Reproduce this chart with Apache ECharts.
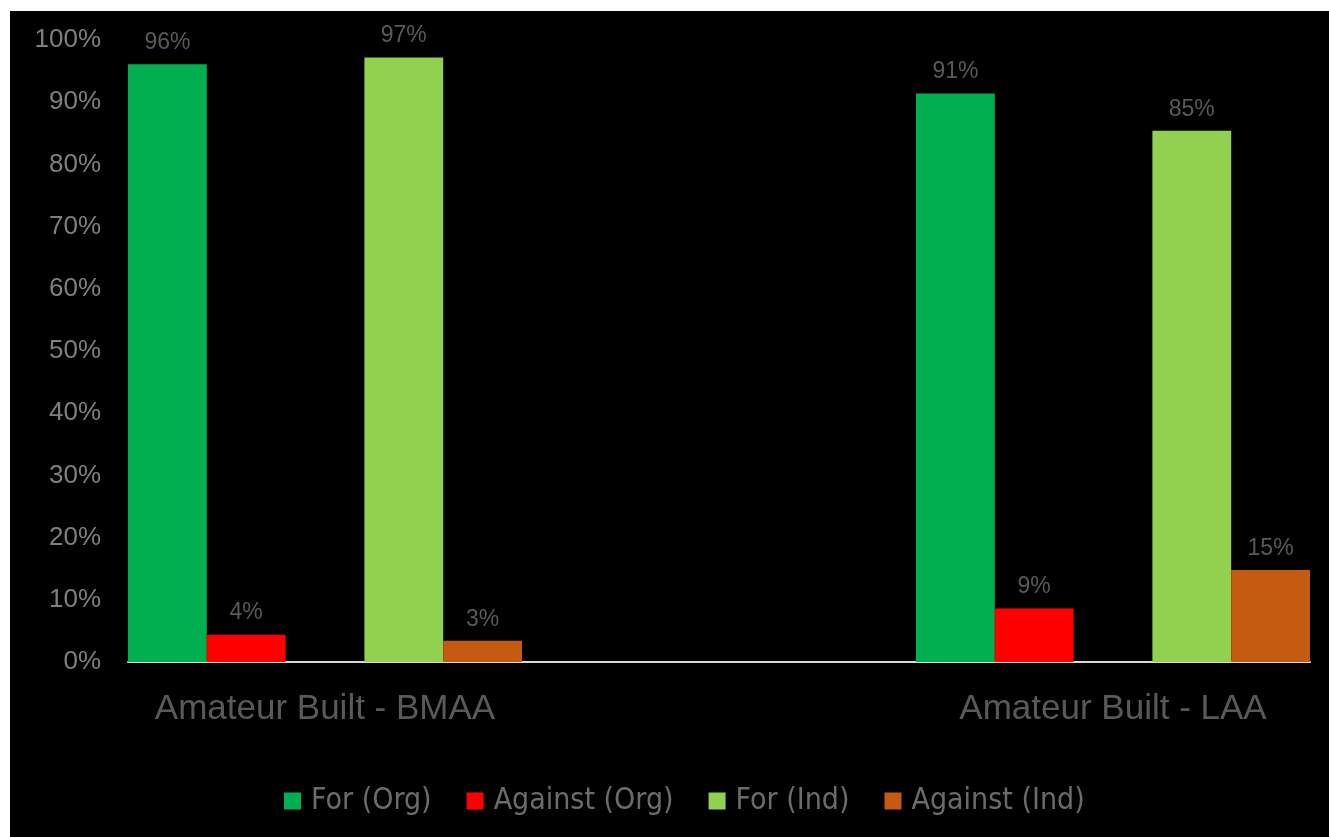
<!DOCTYPE html>
<html>
<head>
<meta charset="utf-8">
<script src="https://cdn.jsdelivr.net/npm/echarts@6/dist/echarts.min.js"></script>
<style>
  html, body { margin: 0; padding: 0; background: #ffffff; }
  #bg { position: absolute; left: 10px; top: 11px; width: 1319px; height: 826px; background: #000000; }
  #chart { position: absolute; left: 0; top: 0; width: 1329px; height: 837px; }
</style>
</head>
<body>
<div id="bg"></div>
<div id="chart"></div>
<script>
// Categories (middle slot is the empty spacer category)
const categories = ['Amateur Built - BMAA', '', 'Amateur Built - LAA'];
// Series values (percent)
const forOrg     = [96.1, '-', 91.4];
const againstOrg = [4.4,  '-', 8.6];
const forInd     = [97.2, '-', 85.4];
const againstInd = [3.4,  '-', 14.8];
const seriesNames = ['For (Org)', 'Against (Org)', 'For (Ind)', 'Against (Ind)'];
const colors = ['#00B050', '#FF0000', '#92D050', '#C55A11'];
// Y-axis ticks
const yMin = 0, yMax = 100, yStep = 10;

const chart = echarts.init(document.getElementById('chart'));

const labelCfg = {
  show: true,
  position: 'top',
  distance: 10,
  color: '#595959',
  fontFamily: 'Liberation Sans, Arial, sans-serif',
  fontSize: 23,
  formatter: p => Math.round(p.value) + '%'
};

function barSeries(name, data, color) {
  return {
    name: name,
    type: 'bar',
    data: data,
    itemStyle: { color: color },
    label: labelCfg,
    barGap: '0%',
    barCategoryGap: '0%'
  };
}

chart.setOption({
  backgroundColor: 'transparent',
  animation: false,
  grid: { left: 128, right: 19, top: 40, bottom: 175, containLabel: false },
  legend: {
    data: seriesNames,
    top: 781,
    left: 279,
    itemWidth: 17,
    itemHeight: 17,
    itemGap: 35,
    icon: 'rect',
    textStyle: {
      color: '#6b6b6b',
      fontFamily: 'Liberation Sans Narrow, DejaVu Sans Condensed, Arial Narrow, sans-serif',
      fontSize: 30,
      padding: [0, 0, 0, 5]
    }
  },
  xAxis: {
    type: 'category',
    data: categories,
    axisTick: { show: false },
    axisLine: { show: true, lineStyle: { color: '#d9d9d9', width: 2 } },
    axisLabel: {
      color: '#595959',
      fontFamily: 'Liberation Sans, Arial, sans-serif',
      fontSize: 35,
      margin: 30,
      interval: 0
    },
    splitLine: { show: false }
  },
  yAxis: {
    type: 'value',
    min: yMin,
    max: yMax,
    interval: yStep,
    axisLine: { show: false },
    axisTick: { show: false },
    splitLine: { show: false },
    axisLabel: {
      color: '#7f7f7f',
      fontFamily: 'Liberation Sans, Arial, sans-serif',
      fontSize: 26,
      margin: 27,
      formatter: '{value}%'
    }
  },
  series: [
    barSeries(seriesNames[0], forOrg, colors[0]),
    barSeries(seriesNames[1], againstOrg, colors[1]),
    { name: 'spacer', type: 'bar', data: ['-', '-', '-'], barGap: '0%', barCategoryGap: '0%', silent: true },
    barSeries(seriesNames[2], forInd, colors[2]),
    barSeries(seriesNames[3], againstInd, colors[3])
  ]
});
</script>
</body>
</html>
